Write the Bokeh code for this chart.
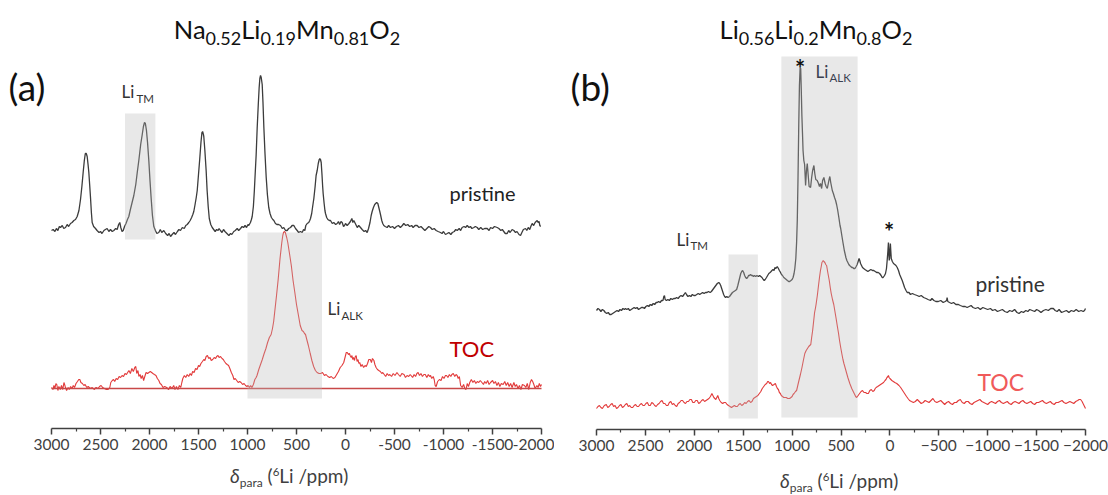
from bokeh.plotting import figure
from bokeh.models import Range1d, Label, FixedTicker, CustomJSTickFormatter, Div
from bokeh.layouts import row, column
from bokeh.embed import file_html
from bokeh.resources import INLINE
import numpy as np

FONT = "Lato"

# ---------------- data: (shift in ppm, intensity in a.u.) ----------------
a_pristine = [(3000,0),(2983,1),(2965,-1),(2950,2),(2935,0),(2920,4),(2908,3),(2890,5),(2875,2),(2857,3),(2840,6),(2825,4),(2806,7),(2790,8),(2772,10),(2755,11),(2738,14),(2720,20),(2704,31),(2690,44),(2677,58),(2665,70),(2655,77),(2645,77),(2636,74),(2627,66),(2619,58),(2610,45),(2602,33),(2593,18),(2585,8),(2570,4),(2551,2),(2535,0),(2515,-2),(2500,-1),(2485,-3),(2465,0),(2450,1),(2432,2),(2415,-1),(2398,1),(2380,-1),(2364,0),(2345,2),(2330,1),(2315,6),(2303,8),(2293,3),(2280,-1),(2268,0),(2255,4),(2240,7),(2225,11),(2211,14),(2195,21),(2180,27),(2160,35),(2140,46),(2125,58),(2109,70),(2090,86),(2074,96),(2062,104),(2051,108),(2042,107),(2031,100),(2020,88),(2007,70),(1995,50),(1983,32),(1970,15),(1956,4),(1940,0),(1925,-3),(1905,-2),(1890,1),(1875,-2),(1854,0),(1835,-3),(1815,-5),(1800,-3),(1785,-6),(1769,-4),(1750,-2),(1735,-4),(1715,-1),(1700,1),(1684,0),(1665,3),(1645,2),(1630,5),(1615,6),(1599,8),(1585,10),(1570,13),(1558,16),(1548,19),(1535,26),(1523,33),(1513,40),(1500,56),(1487,72),(1475,88),(1465,98),(1458,99),(1450,96),(1446,94),(1435,80),(1422,60),(1412,40),(1401,24),(1390,12),(1375,6),(1360,3),(1345,1),(1330,-1),(1315,1),(1300,0),(1290,2),(1276,0),(1260,-2),(1245,1),(1230,-1),(1210,-3),(1190,-5),(1173,-3),(1160,-4),(1140,-1),(1125,0),(1105,2),(1090,0),(1071,2),(1055,4),(1040,3),(1025,5),(1010,3),(995,6),(987,5),(970,8),(960,11),(952,14),(940,24),(930,40),(925,50),(912,75),(901,103),(890,126),(881,143),(874,152),(867,155),(860,153),(850,146),(842,128),(833,103),(822,78),(809,53),(797,36),(783,23),(770,17),(756,13),(742,11),(731,10),(715,7),(700,6),(683,6),(663,5),(645,2),(630,3),(612,0),(595,0),(580,2),(561,3),(545,5),(527,5),(510,2),(493,0),(478,-2),(460,-1),(442,-2),(428,1),(415,0),(405,5),(391,7),(375,8),(365,10),(357,12),(345,17),(335,24),(323,32),(310,44),(300,55),(289,60),(278,67),(268,71),(262,72),(255,71),(248,68),(240,56),(233,44),(228,37),(218,27),(210,20),(204,17),(192,13),(180,11),(165,10),(153,10),(135,7),(120,8),(100,6),(85,7),(72,9),(60,6),(46,9),(34,8),(20,4),(10,5),(0,7),(-17,5),(-35,7),(-50,9),(-65,12),(-75,8),(-85,10),(-100,7),(-120,3),(-135,5),(-153,3),(-170,1),(-190,-1),(-205,0),(-221,-2),(-235,2),(-250,8),(-262,15),(-272,19),(-285,23),(-298,26),(-308,27),(-318,28),(-330,27),(-340,23),(-350,19),(-357,16),(-370,10),(-380,7),(-391,5),(-405,4),(-425,3),(-440,5),(-459,3),(-480,4),(-500,2),(-520,4),(-540,5),(-560,3),(-580,5),(-595,7),(-615,5),(-635,6),(-655,4),(-675,5),(-690,3),(-710,5),(-731,5),(-750,3),(-770,4),(-790,2),(-810,0),(-830,2),(-850,4),(-867,3),(-885,1),(-905,2),(-925,0),(-945,-1),(-969,-2),(-985,-3),(-1000,-1),(-1020,-4),(-1038,-3),(-1055,-2),(-1075,-4),(-1090,-2),(-1110,-1),(-1125,1),(-1140,0),(-1160,2),(-1175,0),(-1190,3),(-1210,4),(-1225,3),(-1242,5),(-1260,3),(-1275,4),(-1290,2),(-1310,3),(-1325,4),(-1344,3),(-1360,1),(-1380,3),(-1400,1),(-1420,2),(-1446,2),(-1465,0),(-1480,3),(-1500,2),(-1520,4),(-1548,3),(-1565,2),(-1585,0),(-1600,1),(-1615,-1),(-1630,-3),(-1650,-3),(-1665,0),(-1680,-2),(-1700,1),(-1718,0),(-1735,-2),(-1750,-1),(-1770,-4),(-1786,-5),(-1800,-2),(-1815,1),(-1837,2),(-1850,0),(-1865,3),(-1880,1),(-1895,5),(-1905,7),(-1920,5),(-1935,8),(-1945,9),(-1956,10),(-1965,8),(-1975,9),(-1983,5),(-1992,4)]

a_toc = [(3000,1),(2985,-1),(2975,3),(2965,0),(2955,5),(2946,4),(2935,-2),(2925,2),(2910,-1),(2898,3),(2885,-1),(2873,6),(2860,2),(2846,-2),(2830,1),(2819,-1),(2805,2),(2790,0),(2778,3),(2765,1),(2750,5),(2735,7),(2722,9),(2711,9),(2700,6),(2685,5),(2670,3),(2657,4),(2640,1),(2625,2),(2605,0),(2584,1),(2565,-1),(2545,1),(2525,0),(2510,2),(2494,3),(2478,1),(2460,0),(2440,-1),(2422,-1),(2405,1),(2395,6),(2380,8),(2367,9),(2355,7),(2340,10),(2325,9),(2310,12),(2295,11),(2280,13),(2265,12),(2250,15),(2235,14),(2223,16),(2210,18),(2195,15),(2180,20),(2165,17),(2150,21),(2140,22),(2130,15),(2118,18),(2108,12),(2096,14),(2085,10),(2072,13),(2060,8),(2048,12),(2035,16),(2020,15),(2006,16),(1992,17),(1978,16),(1965,15),(1950,14),(1934,13),(1920,10),(1905,8),(1892,5),(1879,4),(1862,1),(1845,2),(1825,1),(1805,-1),(1790,2),(1770,0),(1753,3),(1740,-1),(1725,2),(1710,-1),(1695,3),(1681,1),(1670,6),(1660,10),(1644,13),(1630,11),(1615,14),(1600,12),(1585,15),(1572,13),(1560,17),(1545,16),(1530,20),(1515,19),(1500,23),(1488,22),(1475,25),(1460,27),(1446,29),(1435,28),(1422,32),(1409,33),(1395,30),(1382,31),(1370,28),(1355,29),(1340,31),(1325,30),(1315,32),(1301,33),(1290,31),(1275,32),(1260,30),(1247,29),(1235,27),(1220,25),(1207,24),(1193,23),(1180,20),(1165,16),(1150,13),(1138,9),(1125,10),(1110,8),(1095,6),(1080,7),(1066,6),(1050,4),(1035,5),(1020,3),(1005,2),(994,3),(980,1),(968,3),(955,1),(940,4),(925,9),(912,11),(903,13),(885,19),(867,24),(849,29),(830,35),(812,40),(795,46),(777,51),(759,54),(745,60),(733,67),(723,76),(705,92),(687,109),(668,130),(650,146),(640,153),(632,156),(622,157),(614,156),(600,151),(589,146),(570,134),(553,123),(535,108),(517,96),(500,84),(480,73),(462,63),(444,58),(430,57),(418,55),(408,54),(395,49),(379,43),(360,35),(343,28),(325,22),(307,18),(290,16),(270,15),(253,15),(235,16),(215,13),(198,14),(180,12),(162,11),(145,12),(126,10),(108,11),(90,14),(72,17),(54,21),(36,23),(18,26),(5,31),(-8,36),(-18,36),(-30,34),(-40,35),(-47,33),(-58,31),(-66,33),(-73,29),(-82,31),(-92,28),(-100,32),(-109,33),(-118,27),(-128,29),(-136,25),(-145,26),(-158,22),(-170,24),(-185,21),(-199,23),(-212,22),(-225,25),(-238,29),(-253,29),(-265,26),(-275,30),(-283,29),(-290,28),(-300,24),(-312,21),(-326,19),(-340,18),(-355,17),(-370,15),(-380,16),(-395,14),(-410,12),(-425,15),(-440,13),(-452,14),(-470,12),(-487,15),(-505,13),(-525,16),(-540,14),(-558,12),(-575,15),(-597,14),(-612,11),(-628,13),(-645,12),(-660,14),(-669,13),(-685,11),(-700,14),(-715,12),(-728,15),(-741,16),(-755,13),(-770,15),(-785,12),(-800,14),(-814,14),(-830,11),(-845,14),(-858,12),(-868,13),(-880,10),(-895,12),(-905,9),(-915,3),(-925,2),(-940,7),(-958,9),(-975,8),(-990,12),(-1005,10),(-1020,13),(-1031,13),(-1045,11),(-1060,14),(-1075,12),(-1085,14),(-1100,15),(-1115,12),(-1128,14),(-1139,13),(-1150,10),(-1162,12),(-1175,3),(-1190,1),(-1205,4),(-1218,0),(-1230,-1),(-1242,5),(-1255,2),(-1268,6),(-1284,9),(-1300,6),(-1315,8),(-1330,5),(-1345,7),(-1360,6),(-1375,8),(-1392,6),(-1408,4),(-1420,7),(-1435,5),(-1450,8),(-1465,4),(-1480,6),(-1501,8),(-1515,5),(-1530,7),(-1545,3),(-1560,6),(-1575,2),(-1590,5),(-1609,4),(-1625,7),(-1640,3),(-1655,6),(-1670,2),(-1685,5),(-1700,1),(-1718,6),(-1732,2),(-1745,4),(-1760,0),(-1775,3),(-1790,-1),(-1805,4),(-1826,3),(-1840,1),(-1855,5),(-1870,-1),(-1885,6),(-1898,9),(-1910,7),(-1922,4),(-1935,0),(-1953,3),(-1965,1),(-1978,5),(-1990,2),(-2000,4)]

b_pristine = [(3000,0),(2985,2),(2970,1),(2955,-1),(2940,1),(2925,0),(2910,-2),(2895,-3),(2880,-2),(2865,-4),(2850,-4),(2835,-3),(2820,-2),(2805,-1),(2790,0),(2775,-1),(2760,1),(2745,0),(2730,2),(2715,1),(2704,2),(2690,1),(2675,2),(2660,0),(2645,1),(2630,2),(2615,3),(2600,2),(2585,3),(2570,1),(2555,2),(2540,3),(2524,3),(2510,2),(2495,4),(2480,5),(2465,4),(2450,6),(2435,5),(2420,7),(2405,6),(2390,8),(2379,8),(2365,9),(2350,8),(2335,10),(2320,10),(2312,14),(2305,15),(2298,11),(2285,10),(2270,11),(2255,10),(2240,12),(2225,11),(2210,12),(2195,12),(2181,13),(2165,12),(2150,14),(2135,15),(2120,14),(2105,16),(2091,18),(2080,16),(2065,14),(2050,15),(2035,14),(2020,16),(2005,15),(1990,15),(1975,16),(1960,17),(1945,16),(1930,17),(1915,18),(1900,17),(1885,18),(1870,18),(1855,19),(1838,18),(1825,19),(1810,21),(1795,23),(1780,25),(1765,27),(1750,28),(1740,27),(1730,25),(1720,22),(1710,19),(1700,16),(1690,14),(1680,13),(1668,14),(1655,13),(1640,14),(1625,16),(1610,18),(1595,19),(1580,20),(1567,21),(1555,25),(1545,29),(1535,33),(1525,37),(1515,39),(1506,40),(1495,38),(1485,35),(1475,33),(1465,32),(1455,33),(1445,35),(1435,35),(1425,36),(1415,35),(1405,35),(1395,34),(1385,35),(1372,34),(1360,35),(1345,34),(1332,35),(1320,34),(1308,33),(1295,31),(1285,30),(1275,31),(1262,33),(1250,35),(1238,37),(1225,38),(1215,39),(1206,40),(1195,41),(1185,40),(1175,43),(1165,42),(1152,44),(1140,42),(1130,40),(1118,38),(1108,36),(1098,35),(1085,33),(1072,32),(1060,31),(1048,30),(1035,29),(1025,29),(1012,30),(1000,31),(990,33),(980,37),(972,42),(962,52),(954,68),(947,90),(940,130),(932,185),(925,225),(918,243),(912,242),(906,220),(900,195),(894,178),(888,160),(880,150),(872,146),(862,125),(853,140),(845,147),(836,136),(826,124),(811,123),(800,133),(790,140),(777,145),(768,137),(758,131),(743,130),(730,127),(720,124),(709,127),(698,122),(688,130),(675,133),(662,127),(652,124),(640,122),(630,127),(622,131),(614,134),(605,128),(597,124),(589,120),(578,117),(566,113),(555,110),(545,106),(535,101),(522,93),(510,85),(503,82),(490,74),(480,68),(466,60),(459,57),(450,53),(440,50),(430,48),(420,46),(412,45),(400,44),(390,43),(380,43),(370,42),(357,42),(345,44),(335,46),(325,49),(315,52),(308,50),(300,47),(290,45),(280,43),(268,42),(255,41),(240,40),(225,39),(210,40),(195,41),(178,40),(165,40),(150,39),(135,38),(120,38),(105,37),(90,35),(79,33),(69,33),(55,35),(45,37),(35,42),(28,50),(20,60),(15,68),(12,62),(10,55),(7,50),(3,52),(0,58),(-5,67),(-9,60),(-14,52),(-25,49),(-37,47),(-50,46),(-62,45),(-75,43),(-88,40),(-100,36),(-113,33),(-126,30),(-140,26),(-150,23),(-165,20),(-177,18),(-195,18),(-210,16),(-230,17),(-250,16),(-279,15),(-300,14),(-320,15),(-345,13),(-370,12),(-390,11),(-415,10),(-430,12),(-450,10),(-470,9),(-495,9),(-520,10),(-545,8),(-565,9),(-580,10),(-585,13),(-592,9),(-610,8),(-630,7),(-650,8),(-675,6),(-700,6),(-720,5),(-745,4),(-770,4),(-790,3),(-810,4),(-830,5),(-850,3),(-875,2),(-900,3),(-925,1),(-950,3),(-975,2),(-1000,1),(-1028,2),(-1050,0),(-1075,1),(-1100,-1),(-1125,0),(-1150,1),(-1175,-1),(-1200,-2),(-1225,0),(-1250,-1),(-1275,1),(-1300,-2),(-1320,-3),(-1345,-1),(-1365,-2),(-1390,0),(-1410,-1),(-1430,1),(-1455,0),(-1480,-1),(-1500,1),(-1520,0),(-1545,-2),(-1570,0),(-1595,1),(-1620,0),(-1645,2),(-1671,2),(-1690,0),(-1710,-1),(-1730,1),(-1755,-2),(-1780,-1),(-1805,0),(-1830,-2),(-1855,0),(-1880,-1),(-1905,1),(-1930,-1),(-1955,0),(-1977,-1),(-1990,0),(-2000,2)]

b_toc = [(3000,-1),(2985,1),(2970,2),(2955,0),(2940,-1),(2920,2),(2900,3),(2885,0),(2870,1),(2855,3),(2840,4),(2825,1),(2810,2),(2795,-1),(2780,0),(2765,2),(2750,3),(2735,0),(2720,1),(2705,3),(2690,4),(2675,1),(2660,2),(2645,0),(2630,0),(2615,2),(2600,3),(2585,1),(2570,1),(2555,3),(2540,4),(2525,2),(2510,2),(2495,4),(2480,5),(2465,2),(2450,2),(2435,5),(2420,4),(2405,2),(2390,1),(2375,3),(2360,4),(2345,6),(2330,7),(2315,4),(2300,4),(2285,2),(2270,2),(2255,5),(2240,6),(2225,3),(2210,4),(2195,2),(2180,1),(2165,4),(2150,5),(2135,7),(2120,7),(2105,5),(2090,4),(2075,6),(2060,6),(2045,8),(2030,8),(2015,5),(2000,5),(1985,7),(1970,7),(1955,4),(1940,5),(1925,7),(1910,8),(1895,6),(1880,7),(1865,8),(1850,9),(1835,11),(1820,14),(1810,12),(1800,10),(1790,9),(1780,8),(1770,10),(1760,12),(1750,9),(1740,7),(1725,5),(1710,4),(1695,5),(1680,5),(1665,3),(1650,2),(1635,1),(1620,0),(1605,1),(1590,2),(1575,1),(1560,1),(1545,3),(1530,4),(1515,2),(1500,3),(1485,5),(1470,4),(1455,6),(1440,7),(1425,5),(1410,6),(1395,9),(1380,10),(1365,11),(1350,12),(1335,14),(1320,16),(1305,19),(1290,21),(1275,23),(1260,24),(1250,26),(1242,26),(1230,24),(1220,25),(1210,23),(1200,22),(1185,23),(1171,24),(1160,21),(1150,19),(1140,18),(1130,15),(1120,14),(1110,12),(1098,11),(1085,10),(1070,10),(1060,10),(1045,9),(1025,9),(1012,10),(1000,11),(990,13),(980,14),(965,16),(954,17),(942,22),(930,27),(915,33),(899,40),(885,47),(870,54),(856,57),(843,59),(830,61),(820,62),(809,63),(800,70),(790,77),(780,86),(770,95),(762,99),(755,103),(742,112),(730,122),(720,130),(710,137),(702,141),(695,145),(688,146),(682,147),(675,146),(665,145),(656,143),(647,142),(635,135),(620,127),(610,120),(600,114),(587,108),(574,103),(562,96),(550,89),(537,81),(525,74),(515,67),(503,60),(490,53),(480,48),(470,44),(450,37),(430,30),(410,24),(390,19),(375,16),(360,13),(350,11),(340,10),(325,12),(310,14),(295,16),(280,17),(265,15),(249,15),(235,14),(220,14),(205,17),(190,18),(175,16),(160,17),(150,19),(141,20),(125,21),(110,22),(95,23),(80,24),(65,25),(50,27),(40,28),(30,30),(20,31),(15,32),(8,30),(0,29),(-10,28),(-20,27),(-35,26),(-50,25),(-70,24),(-93,22),(-110,20),(-130,17),(-150,14),(-170,11),(-185,9),(-201,7),(-220,6),(-240,5),(-260,6),(-280,8),(-300,6),(-320,4),(-340,5),(-360,7),(-380,6),(-400,5),(-420,7),(-440,9),(-460,6),(-480,5),(-500,6),(-520,7),(-540,5),(-560,3),(-580,5),(-600,6),(-620,4),(-640,3),(-660,5),(-680,5),(-700,7),(-720,8),(-740,5),(-760,4),(-780,6),(-800,6),(-820,4),(-840,3),(-860,5),(-880,6),(-900,7),(-920,8),(-940,6),(-960,5),(-980,4),(-1000,3),(-1020,5),(-1040,6),(-1060,5),(-1080,4),(-1100,6),(-1120,7),(-1140,5),(-1160,4),(-1180,5),(-1200,6),(-1220,4),(-1240,3),(-1260,5),(-1280,6),(-1300,5),(-1320,4),(-1340,6),(-1360,7),(-1380,5),(-1400,4),(-1420,5),(-1440,6),(-1460,4),(-1480,3),(-1500,5),(-1520,5),(-1540,6),(-1560,7),(-1580,5),(-1600,4),(-1620,5),(-1640,6),(-1660,4),(-1680,3),(-1700,5),(-1720,5),(-1740,6),(-1760,7),(-1780,5),(-1800,4),(-1820,5),(-1840,6),(-1860,5),(-1880,4),(-1900,6),(-1920,7),(-1935,8),(-1950,8),(-1965,6),(-1980,3),(-1990,1),(-2000,-1)]

# shaded regions: (ppm from, ppm to, intensity bottom, intensity top)
a_boxes = [(2250, 1940, 149, 275), (1000, 240, -10, 156)]
b_boxes = [(1650, 1350, -11, 153), (1110, 330, -10, 351)]

# vertical offsets of the stacked traces
A_OFFSETS = {"pristine": 158, "TOC": 0}
B_OFFSETS = {"pristine": 97, "TOC": 0}

# compositions: (element, stoichiometry)
TITLE_A = [("Na", "0.52"), ("Li", "0.19"), ("Mn", "0.81"), ("O", "2")]
TITLE_B = [("Li", "0.56"), ("Li", "0.2"), ("Mn", "0.8"), ("O", "2")]

MAJOR = [3000, 2500, 2000, 1500, 1000, 500, 0, -500, -1000, -1500, -2000]
MINOR = [2750, 2250, 1750, 1250, 750, 250, -250, -750, -1250, -1750]

GRAY = "#3c3c3c"
RED = "#e23a3a"

W = 554          # width of each panel
TOP = 52         # height of the title strip
FIG_H = 412      # plot height (frame + tick labels)
AX_H = 31        # strip holding the axis title


def unzip(pairs):
    arr = np.array(pairs, dtype=float)
    return arr[:, 0], arr[:, 1]


def make_panel(left, right, bottom, y0, frame_bottom, minus_sign):
    # x scale: 3000 ppm sits 'left' px from the canvas edge, -2000 ppm 'right' px from the other edge
    ppm_per_px = 5000 / (W - left - right)
    xr = Range1d(3000 + left * ppm_per_px, -2000 - right * ppm_per_px)
    yr = Range1d(y0 - frame_bottom, y0 - TOP)
    p = figure(width=W, height=FIG_H, x_range=xr, y_range=yr,
               output_backend="svg", toolbar_location=None, y_axis_location=None,
               min_border_left=0, min_border_right=0, min_border_top=0, min_border_bottom=bottom)
    p.outline_line_color = None
    p.grid.visible = False
    p.background_fill_color = "white"
    p.border_fill_color = "white"
    ax = p.xaxis[0]
    ax.bounds = (-2000, 3000)
    ax.ticker = FixedTicker(ticks=MAJOR, minor_ticks=MINOR)
    ax.axis_line_color = "#404040"
    ax.axis_line_width = 1.5
    ax.major_tick_line_color = "#404040"
    ax.major_tick_line_width = 1.5
    ax.minor_tick_line_color = "#404040"
    ax.minor_tick_line_width = 1.2
    ax.major_tick_in = 0
    ax.major_tick_out = 6
    ax.minor_tick_in = 0
    ax.minor_tick_out = 3
    ax.major_label_text_font = FONT
    ax.major_label_text_font_size = "15.5px"
    ax.major_label_text_color = "#404040"
    ax.major_label_standoff = 4
    if minus_sign:
        ax.formatter = CustomJSTickFormatter(code="return tick < 0 ? '\u2212' + Math.abs(tick) : String(tick);")
    else:
        ax.formatter = CustomJSTickFormatter(code="return String(tick);")
    return p


def text_piece(p, conv, txt, px, py, size, color="#1a1a1a", style="normal", align="left"):
    # py is the wanted baseline; Label's box sits slightly below, so lift by a fraction of the size
    x, y = conv(px, py - 0.4 * size)
    p.add_layout(Label(x=x, y=y, text=txt, text_font=FONT, text_font_size=f"{size}px",
                       text_color=color, text_font_style=style, text_align=align,
                       text_baseline="alphabetic"))


def title_div(parts, center_x):
    body = "".join(f'{el}<span style="font-size:18px;position:relative;top:6px">{sub}</span>' for el, sub in parts)
    html = (f'<div style="position:relative;width:{W}px;height:{TOP}px;">'
            f'<span style="position:absolute;left:{center_x}px;top:17px;transform:translateX(-50%);'
            f'white-space:nowrap;font-family:{FONT};font-size:25.5px;line-height:25.5px;color:#111">{body}</span></div>')
    return Div(text=html, width=W, height=TOP, margin=0)


def axis_div(left, top):
    html = (f'<div style="position:relative;width:{W}px;height:{AX_H}px;overflow:hidden">'
            f'<span style="position:absolute;left:{left}px;top:{top}px;white-space:nowrap;font-family:{FONT};'
            f'font-size:19px;line-height:19px;color:#404040"><i>\u03b4</i>'
            f'<span style="font-size:12px;position:relative;top:4px">para</span> ('
            f'<span style="font-size:11.5px;position:relative;top:-7px">6</span>Li /ppm)</span></div>')
    return Div(text=html, width=W, height=AX_H, margin=0)


# ---------------- panel (a) ----------------
A_Y0 = 388   # page row of the TOC baseline
pa = make_panel(51, 13, 36, A_Y0, 428, False)


def conv_a(px, py):
    return 3000 - (px - 51) * 5000 / 490, A_Y0 - py


x, y = unzip(a_pristine)
pa.line(x, y + A_OFFSETS["pristine"], line_color=GRAY, line_width=1.3)
x, y = unzip(a_toc)
pa.line(x, y + A_OFFSETS["TOC"], line_color=RED, line_width=1.1)
pa.line([3000, -2000], [A_OFFSETS["TOC"], A_OFFSETS["TOC"]], line_color="#c84848", line_width=1.6)
for l, r, b, t in a_boxes:
    pa.quad(left=l, right=r, bottom=b, top=t, fill_color="#b8b8b8", fill_alpha=0.33, line_color=None)

text_piece(pa, conv_a, "(a)", 8, 101, 37, color="#111111")
text_piece(pa, conv_a, "Li", 121, 98, 17, color="#333333")
text_piece(pa, conv_a, "TM", 136, 103, 11.5, color="#333333")
text_piece(pa, conv_a, "pristine", 449, 200, 20, color="#222222")
text_piece(pa, conv_a, "Li", 327, 315, 17, color="#333333")
text_piece(pa, conv_a, "ALK", 341, 320, 11.5, color="#333333")
text_piece(pa, conv_a, "TOC", 449, 357, 22, color="#c00000")

# ---------------- panel (b) ----------------
B_Y0 = 407
pb = make_panel(42, 23, 35, B_Y0, 429, True)


def conv_b(px, py):
    return 3000 - (px - 554 - 42) * 5000 / 489, B_Y0 - py


x, y = unzip(b_pristine)
pb.line(x, y + B_OFFSETS["pristine"], line_color=GRAY, line_width=1.3)
x, y = unzip(b_toc)
pb.line(x, y + B_OFFSETS["TOC"], line_color=RED, line_width=1.1)
for l, r, b, t in b_boxes:
    pb.quad(left=l, right=r, bottom=b, top=t, fill_color="#b8b8b8", fill_alpha=0.33, line_color=None)

text_piece(pb, conv_b, "(b)", 570, 101, 37, color="#111111")
text_piece(pb, conv_b, "Li", 815, 78, 17, color="#3a4050")
text_piece(pb, conv_b, "ALK", 829, 82, 11.5, color="#3a4050")
text_piece(pb, conv_b, "Li", 676, 246, 17, color="#333333")
text_piece(pb, conv_b, "TM", 690, 250, 11.5, color="#333333")
text_piece(pb, conv_b, "*", 799.5, 78, 24, color="#111111", style="bold", align="center")
text_piece(pb, conv_b, "*", 888.5, 241, 24, color="#111111", style="bold", align="center")
text_piece(pb, conv_b, "pristine", 975, 291, 21, color="#333333")
text_piece(pb, conv_b, "TOC", 977, 391, 23, color="#f05a5a")

layout = row(column(title_div(TITLE_A, 287), pa, axis_div(230, 2)),
             column(title_div(TITLE_B, 262), pb, axis_div(226, 7)))
open("out.html", "w").write(file_html(layout, INLINE))
